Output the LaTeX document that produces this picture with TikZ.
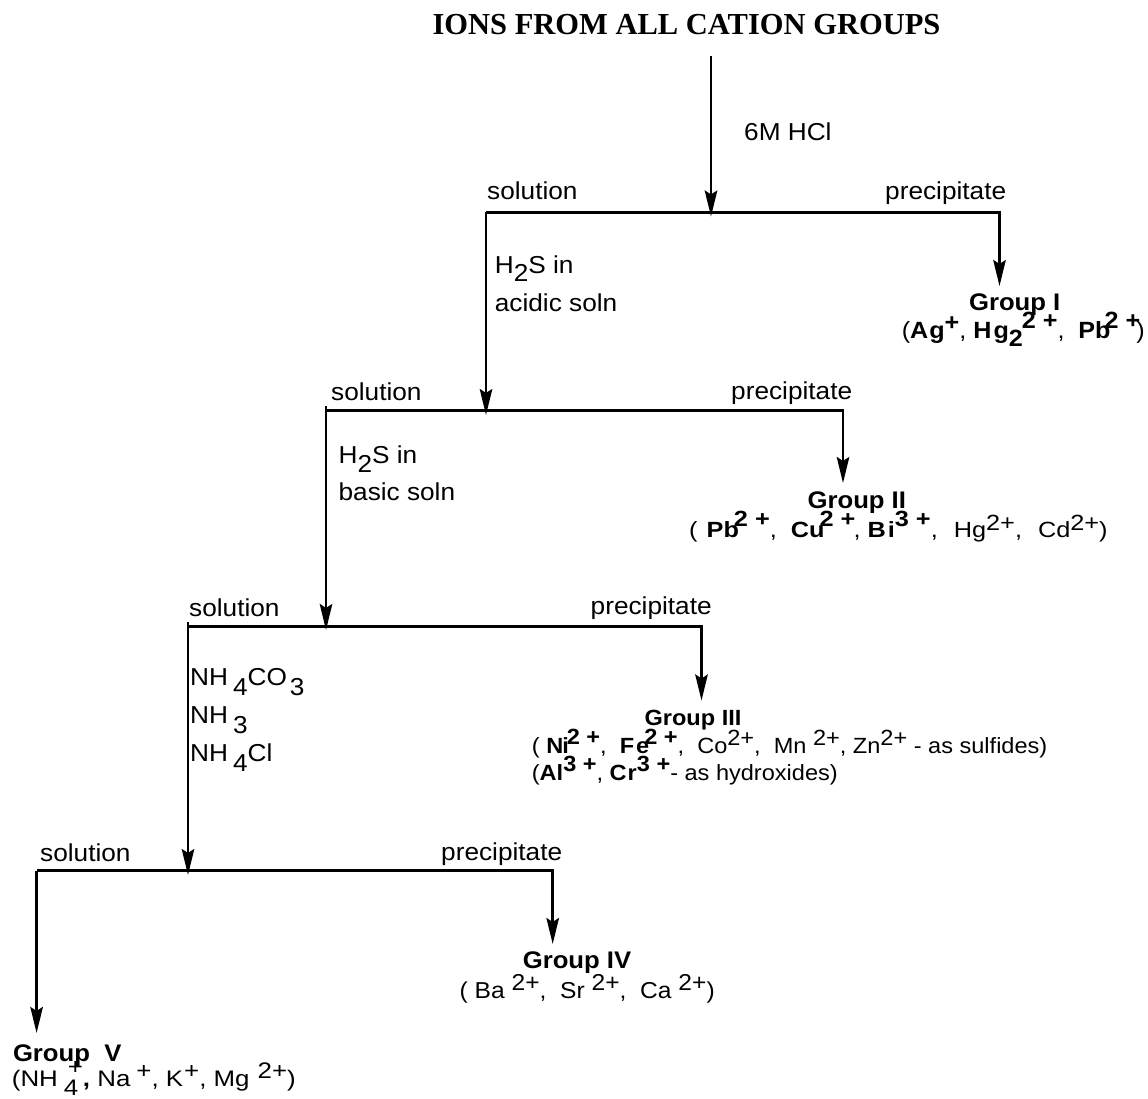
\documentclass[tikz,border=0pt]{standalone}
\usepackage{fontspec}
\setmainfont{Liberation Sans}[FakeStretch=1.07]
\newfontfamily\ionfont{Liberation Sans}[FakeStretch=1.15]
\newfontfamily\titlefont{Liberation Serif}
\usetikzlibrary{arrows.meta}
\newcommand\up[2][8pt]{\raisebox{#1}{#2}}
\newcommand\dn[2][9pt]{\raisebox{-#1}{#2}}
\begin{document}
\begin{tikzpicture}[x=1pt,y=-1pt,
  lbl/.style={anchor=base west, inner sep=0pt, font=\fontsize{24.5}{28}\selectfont},
  ions/.style={anchor=base west, inner sep=0pt, font=\fontsize{22}{24}\selectfont},
  gtitle/.style={anchor=base, inner sep=0pt, font=\fontsize{24}{28}\selectfont\bfseries},
  bar/.style={line width=2.5pt, line join=miter},
  arr/.style={line width=2.5pt, line join=miter, -{Stealth[length=26pt,width=12.5pt,inset=4pt]}},
]
\useasboundingbox (0,0) rectangle (1148,1099);
\node[anchor=base, inner sep=0pt, font=\titlefont\bfseries\fontsize{30.5}{34}\selectfont] (title) at (686.5,35) {IONS FROM ALL CATION GROUPS};

% junction coordinates
\coordinate (a0) at (711,56);
\coordinate (j1) at (711,216.5);
\coordinate (L1) at (486,212.5);
\coordinate (R1) at (999.5,212.5);
\coordinate (t1) at (999.5,286);
\coordinate (j2) at (486,415);
\coordinate (L2top) at (326,406);
\coordinate (L2) at (326,410.5);
\coordinate (R2) at (843,410.5);
\coordinate (t2) at (843,483);
\coordinate (j3) at (326,630);
\coordinate (L3top) at (188,622);
\coordinate (L3) at (188,626.5);
\coordinate (R3) at (701.5,626.5);
\coordinate (t3) at (701.5,700.5);
\coordinate (j4) at (188,875);
\coordinate (L4) at (36.6,870.5);
\coordinate (R4) at (552.7,870.5);
\coordinate (t4) at (552.7,944);
\coordinate (t5) at (36.6,1033);

% connectors
\draw[arr] (a0) -- (j1);
\draw[arr] (L1) -- (R1) -- (t1);
\draw[arr] (L1) -- (j2);
\draw[arr] (L2) -- (R2) -- (t2);
\draw[arr] (L2top) -- (j3);
\draw[arr] (L3) -- (R3) -- (t3);
\draw[arr] (L3top) -- (j4);
\draw[arr] (L4) -- (R4) -- (t4);
\draw[arr] (L4) -- (t5);

% reagent and branch labels
\node[lbl] (hcl) at (744,141) {6M HCl};
\node[lbl] (sol1) at (487,199.6) {solution};
\node[lbl] (pre1) at (885,199.6) {precipitate};
\node[lbl] (rA1) at (494.7,273) {H\dn{2}S in};
\node[lbl] (rA2) at (494.7,311.6) {acidic soln};
\node[lbl] (sol2) at (331,400) {solution};
\node[lbl] (pre2) at (731,399) {precipitate};
\node[lbl] (rB1) at (338.4,463) {H\dn{2}S in};
\node[lbl] (rB2) at (338.4,500.7) {basic soln};
\node[lbl] (sol3) at (189,616.5) {solution};
\node[lbl] (pre3) at (590.5,614.8) {precipitate};
\node[lbl] (rC1) at (190,685) {NH\kern5pt\dn[10pt]{4}CO\kern3pt\dn[10pt]{3}};
\node[lbl] (rC2) at (190,723.3) {NH\kern5pt\dn[10pt]{3}};
\node[lbl] (rC3) at (190,761.8) {NH\kern5pt\dn[10pt]{4}Cl};
\node[lbl] (sol4) at (40,861.6) {solution};
\node[lbl] (pre4) at (441,860) {precipitate};

% groups
\node[gtitle] (g1) at (1014.7,310) {Group I};
\node[ions, font=\fontsize{23.5}{26}\selectfont] (g1i) at (901.6,338) {(\textbf{A\kern1pt g\up[8pt]{+}}, \textbf{H\kern2pt g\dn[8pt]{2}\kern-1pt\up[10pt]{2 +}}, \ \textbf{Pb\kern-6pt\up[10pt]{2 +}}\kern-4pt)};

\node[gtitle] (g2) at (856.8,508) {Group II};
\node[ions, font=\ionfont\fontsize{22}{24}\selectfont] (g2i) at (689,537) {(\kern9pt\textbf{Pb\kern-5pt\up[11pt]{2 +}}, \ \textbf{Cu\kern-5pt\up[11pt]{2 +}}\kern-2pt, \textbf{B\kern2pt i\up[11pt]{3 +}}, \kern9pt Hg\up[7pt]{2+}, \kern9pt Cd\up[7pt]{2+})};

\node[gtitle, font=\fontsize{22}{26}\selectfont\bfseries] (g3) at (693,725) {Group III};
\node[ions] (g3i) at (531.7,753) {( \textbf{N\kern-1pt i\kern-2pt\up[9pt]{2 +}}, \ \textbf{F\kern2pt e\kern-5pt\up[9pt]{2 +}}, \ Co\up[8pt]{2+}, \ Mn \up[8pt]{2+}, Zn\up[8pt]{2+} - as sulfides)};
\node[ions] (g3j) at (531.7,780.5) {(\textbf{Al\up[9pt]{3 +}}, \textbf{C\kern1pt r\up[9pt]{3 +}}- as hydroxides)};

\node[gtitle] (g4) at (577,968) {Group IV};
\node[ions, font=\fontsize{23}{26}\selectfont] (g4i) at (459.4,998) {( Ba \up[8pt]{2+}, \ Sr \up[8pt]{2+}, \ Ca \up[8pt]{2+})};

\node[gtitle, anchor=base west] (g5) at (12.8,1061) {Group\ \ V};
\node[ions, font=\ionfont\fontsize{22.5}{24}\selectfont] (g5i) at (11.7,1086) {(NH\kern6pt\makebox[0pt][l]{\dn[9pt]{4}}\kern4pt\up[12pt]{+}\textbf{,} Na\kern6pt\up[8pt]{+}, K\kern1pt\up[8pt]{+}, Mg\kern8pt\up[8pt]{2+})};
\end{tikzpicture}
\end{document}
